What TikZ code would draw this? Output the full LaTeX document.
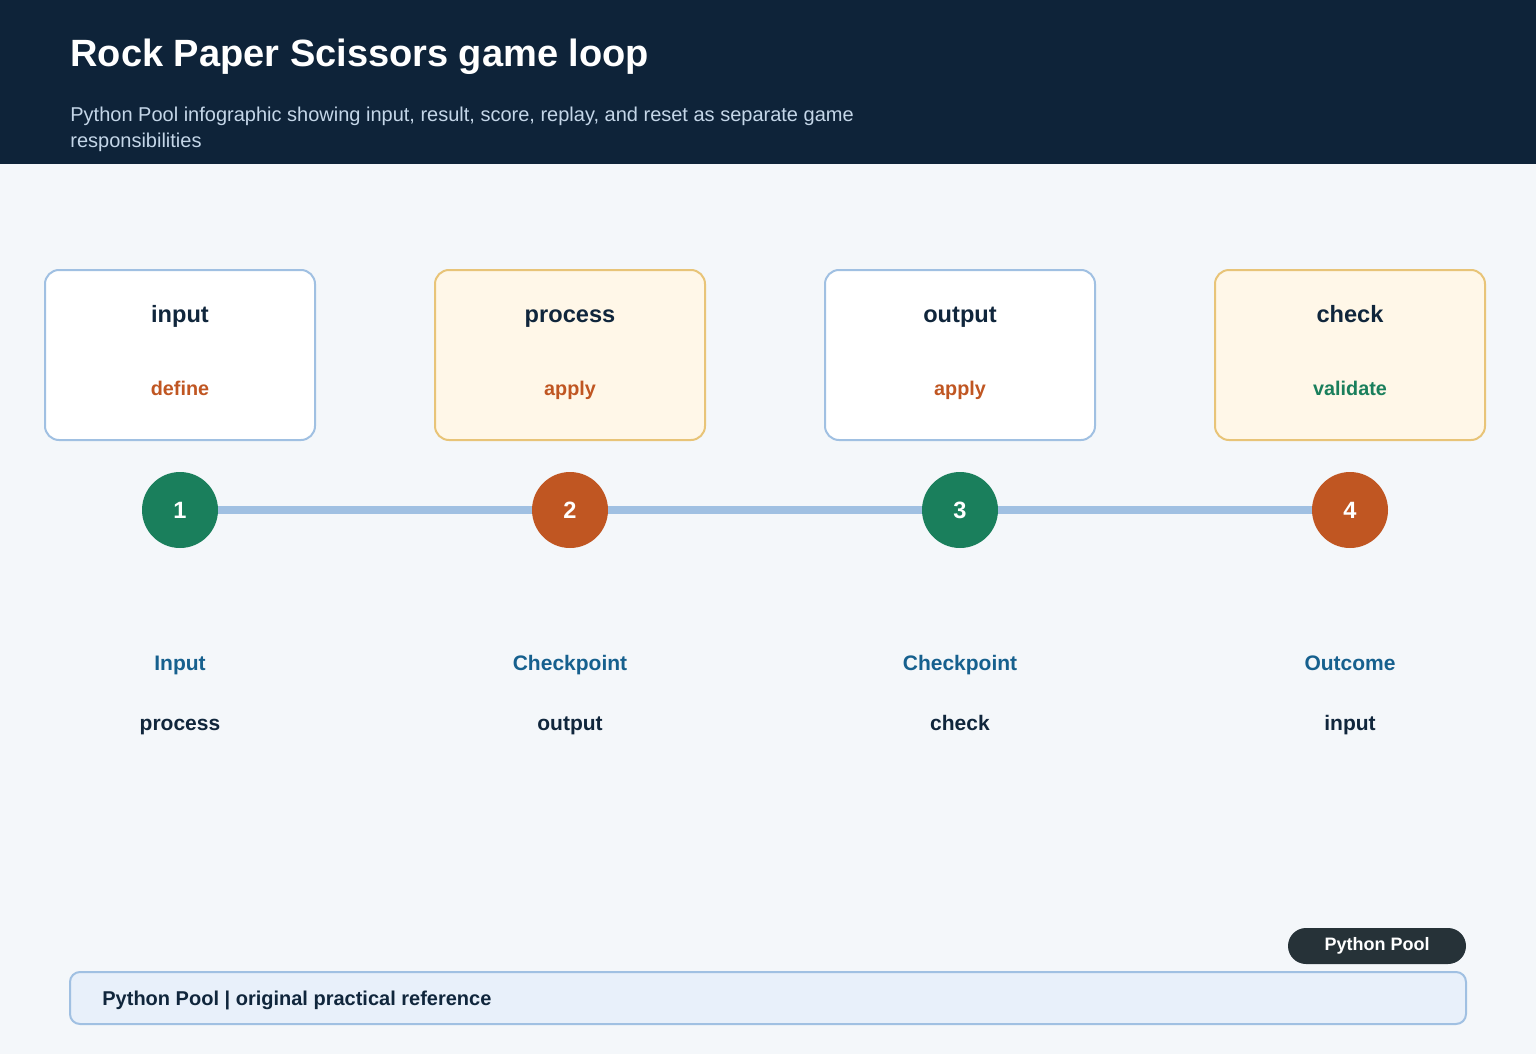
\documentclass[tikz,border=0pt]{standalone}
\usepackage{fontspec}
\setmainfont{Liberation Sans}
\usetikzlibrary{positioning}

\definecolor{pagebg}{RGB}{244,247,250}
\definecolor{headbg}{RGB}{14,35,57}
\definecolor{subtxt}{RGB}{196,214,232}
\definecolor{inkdark}{RGB}{16,38,60}
\definecolor{edgeblue}{RGB}{160,192,226}
\definecolor{edgegold}{RGB}{232,196,120}
\definecolor{fillgold}{RGB}{255,247,232}
\definecolor{rust}{RGB}{192,86,34}
\definecolor{forest}{RGB}{26,127,92}
\definecolor{labelblue}{RGB}{22,96,142}
\definecolor{pillbg}{RGB}{38,50,56}
\definecolor{footbg}{RGB}{232,240,250}

\begin{document}
\begin{tikzpicture}[x=0.5pt,y=-0.5pt,
  stagebox/.style={draw=edgeblue,line width=1pt,fill=white,rounded corners=7pt,
    minimum width=135pt,minimum height=85pt,inner sep=0pt},
  goldbox/.style={stagebox,draw=edgegold,fill=fillgold},
  boxtitle/.style={anchor=base,text=inkdark,font=\fontsize{11.8}{14}\selectfont\bfseries},
  boxverb/.style={anchor=base,text=rust,font=\fontsize{9.9}{12}\selectfont\bfseries},
  stepdot/.style={circle,minimum size=38pt,inner sep=0pt,text=white,
    font=\fontsize{11.8}{13}\selectfont\bfseries},
  track/.style={draw=edgeblue,line width=4pt},
  steplabel/.style={anchor=base,text=labelblue,font=\fontsize{10.5}{12}\selectfont\bfseries},
  stepnote/.style={anchor=base,text=inkdark,font=\fontsize{10.5}{12}\selectfont\bfseries}]
\useasboundingbox (0,0) rectangle (1536,1054);

%Background
\fill[pagebg] (0,0) rectangle (1536,1054);
%Header band
\fill[headbg] (0,0) rectangle (1536,164);

% Text Node
\node[anchor=base west,inner sep=0pt,text=white,font=\fontsize{19}{22}\selectfont\bfseries] (title) at (70,67) {Rock Paper Scissors game loop};
% Text Node
\node[anchor=base west,inner sep=0pt,align=left,text=subtxt,font=\fontsize{10}{13}\selectfont] (subtitle) at (70,147.5)
  {Python Pool infographic showing input, result, score, replay, and reset as separate game\\responsibilities};

%Stage boxes
\node[stagebox] (boxa) at (180,355) {};
\node[goldbox] (boxb) at (570,355) {};
\node[stagebox] (boxc) at (960,355) {};
\node[goldbox] (boxd) at (1350,355) {};

% Text Node
\node[boxtitle] (ta) at (180,322) {input};
\node[boxtitle] (tb) at (570,322) {process};
\node[boxtitle] (tc) at (960,322) {output};
\node[boxtitle] (td) at (1350,322) {check};
% Text Node
\node[boxverb] (va) at (180,395) {define};
\node[boxverb] (vb) at (570,395) {apply};
\node[boxverb] (vc) at (960,395) {apply};
\node[boxverb,text=forest] (vd) at (1350,395) {validate};

%Step circles
\node[stepdot,fill=forest] (sa) at (180,510) {\raisebox{-1pt}{1}};
\node[stepdot,fill=rust] (sb) at (570,510) {\raisebox{-1pt}{2}};
\node[stepdot,fill=forest] (sc) at (960,510) {\raisebox{-1pt}{3}};
\node[stepdot,fill=rust] (sd) at (1350,510) {\raisebox{-1pt}{4}};

%Track
\draw[track] (sa) -- (sb);
\draw[track] (sb) -- (sc);
\draw[track] (sc) -- (sd);

% Text Node
\node[steplabel] (la) at (180,670) {Input};
\node[steplabel] (lb) at (570,670) {Checkpoint};
\node[steplabel] (lc) at (960,670) {Checkpoint};
\node[steplabel] (ld) at (1350,670) {Outcome};
% Text Node
\node[stepnote] (na) at (180,730) {process};
\node[stepnote] (nb) at (570,730) {output};
\node[stepnote] (nc) at (960,730) {check};
\node[stepnote] (nd) at (1350,730) {input};

%Badge
\node[fill=pillbg,rounded corners=9pt,minimum width=89pt,minimum height=18pt,inner sep=0pt,
  text=white,font=\fontsize{9}{10}\selectfont\bfseries] (badge) at (1377,946) {\raisebox{-0.5pt}{Python Pool}};

%Footer
\draw[draw=edgeblue,line width=1pt,fill=footbg,rounded corners=5pt] (70,972) rectangle (1466,1024);
\node[anchor=base west,inner sep=0pt,text=inkdark,font=\fontsize{10}{12}\selectfont\bfseries] (foot) at (102,1005)
  {Python Pool | original practical reference};

\end{tikzpicture}
\end{document}
